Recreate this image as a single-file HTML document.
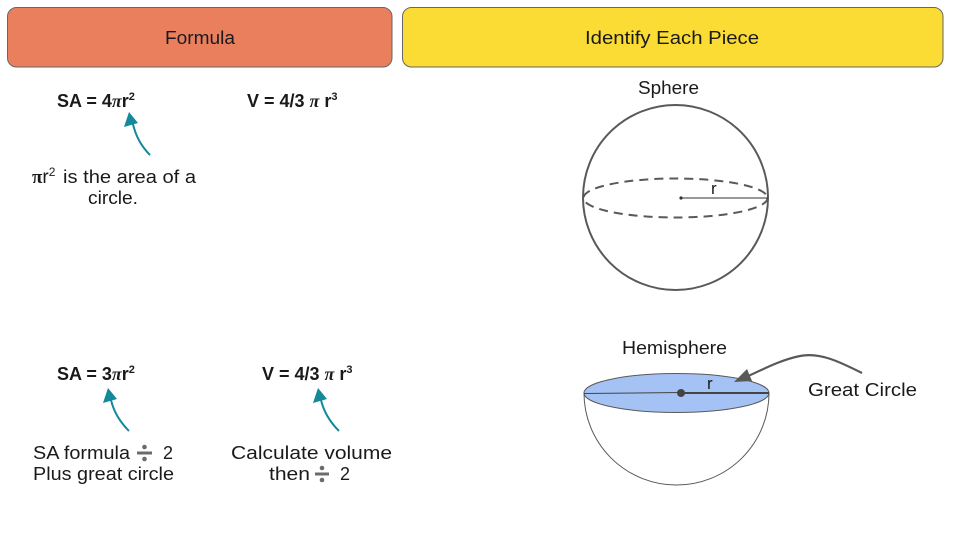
<!DOCTYPE html>
<html><head><meta charset="utf-8"><style>
html,body{margin:0;padding:0;background:#fff;}
svg{display:block;}
text{font-family:"Liberation Sans",sans-serif;fill:#1a1a1a;}
</style></head><body>
<svg width="960" height="540" viewBox="0 0 960 540" xmlns="http://www.w3.org/2000/svg">
<rect x="0" y="0" width="960" height="540" fill="#fff"/>
<!-- headers -->
<rect x="7.5" y="7.5" width="384.5" height="59.5" rx="9" fill="#ea7f5e" stroke="#666" stroke-width="1"/>
<text x="165" y="44" font-size="18" textLength="70" lengthAdjust="spacingAndGlyphs">Formula</text>
<rect x="402.5" y="7.5" width="540.5" height="59.5" rx="9" fill="#fbdc34" stroke="#666" stroke-width="1"/>
<text x="585" y="44" font-size="18" textLength="174" lengthAdjust="spacingAndGlyphs">Identify Each Piece</text>

<!-- top formulas -->
<text x="57" y="107" font-size="18" font-weight="bold">SA = 4<tspan font-family="Liberation Serif" font-style="italic">π</tspan>r<tspan font-size="11" dy="-7">2</tspan></text>
<text x="247" y="107" font-size="18" font-weight="bold">V = 4/3 <tspan font-family="Liberation Serif" font-style="italic">π</tspan> r<tspan font-size="11" dy="-7">3</tspan></text>

<!-- teal arrow 1 -->
<path d="M150,155 Q137,142 133,124" fill="none" stroke="#13899a" stroke-width="2"/>
<polygon points="129,112 124,127 138,123" fill="#13899a"/>

<text x="32" y="183" font-size="19"><tspan font-weight="bold" font-family="Liberation Serif">π</tspan>r<tspan font-size="12" dy="-7">2</tspan></text>
<text x="63" y="183" font-size="18" textLength="133" lengthAdjust="spacingAndGlyphs">is the area of a</text>
<text x="88" y="204" font-size="18" textLength="50" lengthAdjust="spacingAndGlyphs">circle.</text>

<!-- bottom formulas -->
<text x="57" y="380" font-size="18" font-weight="bold">SA = 3<tspan font-family="Liberation Serif" font-style="italic">π</tspan>r<tspan font-size="11" dy="-7">2</tspan></text>
<text x="262" y="380" font-size="18" font-weight="bold">V = 4/3 <tspan font-family="Liberation Serif" font-style="italic">π</tspan> r<tspan font-size="11" dy="-7">3</tspan></text>

<path d="M129,431 Q115,417 111,400" fill="none" stroke="#13899a" stroke-width="2"/>
<polygon points="108,388 103,403 117,399" fill="#13899a"/>
<path d="M339,431 Q325,417 321,400" fill="none" stroke="#13899a" stroke-width="2"/>
<polygon points="318,388 313,403 327,399" fill="#13899a"/>

<text x="33" y="459" font-size="18" textLength="97" lengthAdjust="spacingAndGlyphs">SA formula</text>
<g fill="#6b6b6b"><rect x="137" y="451.5" width="15" height="3"/><circle cx="144.5" cy="447" r="2.3"/><circle cx="144.5" cy="459" r="2.3"/></g>
<text x="163" y="459" font-size="18">2</text>
<text x="33" y="480" font-size="18" textLength="141" lengthAdjust="spacingAndGlyphs">Plus great circle</text>

<text x="231" y="459" font-size="18" textLength="161" lengthAdjust="spacingAndGlyphs">Calculate volume</text>
<text x="269" y="480" font-size="18" textLength="41" lengthAdjust="spacingAndGlyphs">then</text>
<g fill="#6b6b6b"><rect x="315" y="472.5" width="14" height="3"/><circle cx="322" cy="468" r="2.3"/><circle cx="322" cy="480" r="2.3"/></g>
<text x="340" y="480" font-size="18">2</text>

<!-- sphere -->
<text x="638" y="94" font-size="18" textLength="61" lengthAdjust="spacingAndGlyphs">Sphere</text>
<circle cx="675.5" cy="197.5" r="92.5" fill="none" stroke="#595959" stroke-width="2"/>
<ellipse cx="675.5" cy="198" rx="92" ry="19.5" fill="none" stroke="#595959" stroke-width="2" stroke-dasharray="9,6"/>
<line x1="681" y1="198" x2="768" y2="198" stroke="#333" stroke-width="1"/>
<circle cx="681" cy="198" r="1.6" fill="#333"/>
<text x="711" y="194" font-size="17">r</text>

<!-- hemisphere -->
<text x="622" y="354" font-size="18" textLength="105" lengthAdjust="spacingAndGlyphs">Hemisphere</text>
<path d="M584,393 A92.5,92 0 0 0 769,393" fill="none" stroke="#595959" stroke-width="1"/>
<ellipse cx="676.5" cy="393" rx="92.5" ry="19.5" fill="#a4c2f4" stroke="#595959" stroke-width="1"/>
<line x1="584" y1="393.5" x2="681" y2="392.5" stroke="#444" stroke-width="1"/>
<line x1="681" y1="393" x2="769" y2="393" stroke="#444" stroke-width="2"/>
<circle cx="681" cy="393" r="4" fill="#444"/>
<text x="707" y="389" font-size="17">r</text>

<!-- great circle arrow -->
<path d="M862,373 C840,362 820,352 800,356 C780,360 762,370 746,377" fill="none" stroke="#595959" stroke-width="2.2"/>
<polygon points="734,382 747,369 752,381" fill="#595959"/>
<text x="808" y="396" font-size="18" textLength="109" lengthAdjust="spacingAndGlyphs">Great Circle</text>
</svg>
</body></html>
